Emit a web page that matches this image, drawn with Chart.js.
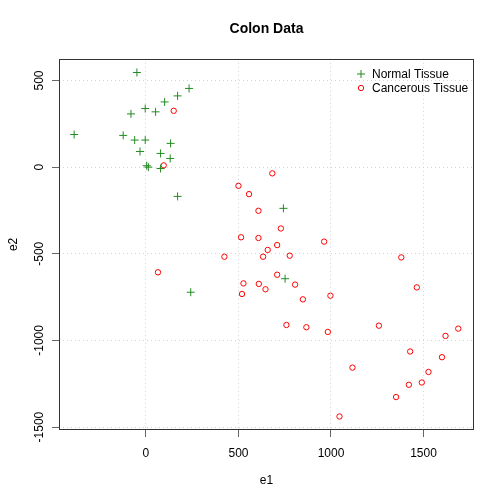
<!DOCTYPE html>
<html>
<head>
<meta charset="utf-8">
<script src="https://cdn.jsdelivr.net/npm/chart.js@4.4.1/dist/chart.umd.min.js"></script>
<style>
  html, body { margin: 0; padding: 0; background: #fff; }
  #wrap { width: 504px; height: 504px; }
</style>
</head>
<body>
<div id="wrap"><canvas id="colonChart" width="504" height="504"></canvas></div>
<script>
// ==============================
// DATA
// ==============================
const normalE1 = [-49, 233, 171, 101, -4, 52, -81, -388, -123, -61, -4, 133, -32, 79, 131, 4, 13, 79, 171, 242, 743, 752];
const normalE2 = [546, 454, 411, 376, 338, 319, 307, 188, 183, 156, 156, 137, 90, 79, 50, 8, 0, -8, -169, -722, -238, -644];

const cancerE1 = [150, 96, 500, 557, 608, 514, 608, 424, 633, 658, 65, 527, 610, 646, 519,
  683, 729, 963, 709, 777, 1380, 709, 806, 1464, 848, 997, 759, 867, 983, 1259,
  1688, 1619, 1428, 1600, 1116, 1527, 1491, 1421, 1352, 1046];
const cancerE2 = [325, 10, -108, -156, -252, -405, -409, -517, -517, -478, -607, -671, -674, -705, -732,
  -36, -354, -430, -450, -511, -521, -621, -678, -694, -763, -742, -911, -924, -951, -915,
  -932, -974, -1064, -1097, -1157, -1182, -1243, -1256, -1327, -1439];

const xTicks = [0, 500, 1000, 1500];
const yTicks = [-1500, -1000, -500, 0, 500];

const legendLabels = ["Normal Tissue", "Cancerous Tissue"];
const FONT = "'Liberation Sans', Arial, sans-serif";
const GREEN = "#228B22";
const RED = "#FF0000";

function toPoints(xs, ys) {
  return xs.map((x, i) => ({ x, y: ys[i] }));
}

// frame + legend drawn inside the plot region
const boxAndLegend = {
  id: "boxAndLegend",
  afterDatasetsDraw(chart) {
    const { ctx, chartArea: a } = chart;
    ctx.save();
    ctx.strokeStyle = "#333";
    ctx.lineWidth = 1;
    ctx.strokeRect(Math.round(a.left) + 0.5, Math.round(a.top) + 0.5,
      Math.round(a.right - a.left) - 1, Math.round(a.bottom - a.top) - 1);

    // legend
    const lx = 361, ly = [74, 88];
    ctx.font = "12px " + FONT;
    ctx.textBaseline = "middle";
    ctx.fillStyle = "#000";
    ctx.lineWidth = 1;
    ctx.strokeStyle = GREEN;
    ctx.beginPath();
    ctx.moveTo(lx - 4, ly[0]); ctx.lineTo(lx + 4, ly[0]);
    ctx.moveTo(lx, ly[0] - 4); ctx.lineTo(lx, ly[0] + 4);
    ctx.stroke();
    ctx.strokeStyle = RED;
    ctx.beginPath();
    ctx.arc(lx, ly[1], 2.7, 0, Math.PI * 2);
    ctx.stroke();
    ctx.fillText(legendLabels[0], lx + 11, ly[0] + 1);
    ctx.fillText(legendLabels[1], lx + 11, ly[1] + 1);
    ctx.restore();
  }
};

const gridOpts = {
  color: "#d3d3d3",
  lineWidth: 1,
  drawTicks: true,
  tickLength: 7,
  tickColor: "#666"
};

const plainNum = (v) => String(v);

new Chart(document.getElementById("colonChart").getContext("2d"), {
  type: "scatter",
  data: {
    datasets: [
      {
        label: legendLabels[0],
        data: toPoints(normalE1, normalE2),
        pointStyle: "cross",
        pointRadius: 4,
        borderColor: GREEN,
        backgroundColor: GREEN,
        borderWidth: 1
      },
      {
        label: legendLabels[1],
        data: toPoints(cancerE1, cancerE2),
        pointStyle: "circle",
        pointRadius: 2.7,
        borderColor: RED,
        backgroundColor: "rgba(0,0,0,0)",
        borderWidth: 1
      }
    ]
  },
  options: {
    responsive: false,
    animation: false,
    devicePixelRatio: 1,
    layout: { padding: { left: 0, right: 30, top: 0, bottom: 0 } },
    plugins: {
      legend: { display: false },
      tooltip: { enabled: false },
      title: {
        display: true,
        text: "Colon Data",
        fullSize: false,
        color: "#000",
        font: { family: FONT, size: 14, weight: "bold", lineHeight: 1.2 },
        padding: { top: 21, bottom: 21 }
      }
    },
    scales: {
      x: {
        type: "linear",
        min: -470,
        max: 1773,
        afterBuildTicks: (s) => { s.ticks = xTicks.map(v => ({ value: v })); },
        afterFit: (s) => { s.height = 74; },
        grid: gridOpts,
        border: { display: false, dash: [1, 3] },
        ticks: { color: "#000", font: { family: FONT, size: 12 }, padding: 9, maxRotation: 0, callback: plainNum },
        title: {
          display: true, text: "e1", color: "#000",
          font: { family: FONT, size: 12, lineHeight: 1.2 },
          padding: { top: 0, bottom: 16 }
        }
      },
      y: {
        type: "linear",
        min: -1517,
        max: 625,
        afterBuildTicks: (s) => { s.ticks = yTicks.map(v => ({ value: v })); },
        afterFit: (s) => { s.width = 59; },
        grid: gridOpts,
        border: { display: false, dash: [1, 3] },
        ticks: {
          color: "#000", font: { family: FONT, size: 12 },
          minRotation: 90, maxRotation: 90, crossAlign: "center", padding: -3,
          callback: plainNum
        },
        title: {
          display: true, text: "e2", color: "#000",
          font: { family: FONT, size: 12, lineHeight: 1.2 },
          padding: { top: 6, bottom: 0 }
        }
      }
    }
  },
  plugins: [boxAndLegend]
});
</script>
</body>
</html>
